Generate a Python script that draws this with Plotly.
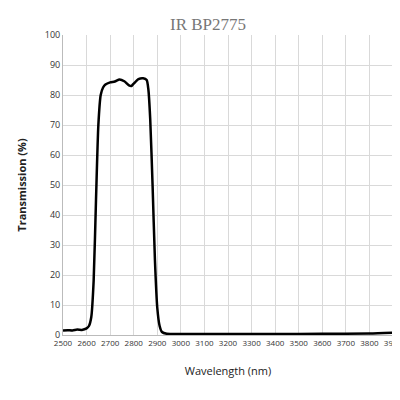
import plotly.graph_objects as go

# spectrum
wavelength = [2500, 2520, 2540, 2560, 2580, 2600, 2610, 2620, 2630, 2640, 2650, 2660, 2670,
              2680, 2700, 2720, 2740, 2760, 2780, 2790, 2800, 2820, 2840, 2855, 2862, 2870,
              2880, 2890, 2900, 2910, 2920, 2940, 3000, 3200, 3400, 3600, 3800, 3900]
transmission = [1.5, 1.6, 1.5, 1.8, 1.7, 2.2, 3.0, 6.0, 18, 45, 70, 80, 82.5,
                83.5, 84.2, 84.5, 85.2, 84.6, 83.2, 83.0, 83.8, 85.3, 85.6, 85.0, 82, 72,
                50, 25, 9, 3, 1.0, 0.4, 0.3, 0.3, 0.3, 0.4, 0.5, 0.8]

fig = go.Figure(go.Scatter(x=wavelength, y=transmission, mode='lines',
                           line=dict(color='black', width=2.5, shape='spline', smoothing=0.6)))

fig.update_layout(
    width=400, height=400, paper_bgcolor='white', plot_bgcolor='white',
    margin=dict(l=55, r=15, t=27, b=73, autoexpand=False), showlegend=False,
    title=dict(text='IR BP2775', x=0.5, y=0.975, xanchor='center',
               font=dict(family='Liberation Serif', size=17, color='#777')),
)
fig.update_xaxes(range=[2500, 3900], dtick=100, showgrid=True, gridcolor='#d9d9d9',
                 showline=True, linecolor='#bbb', ticks='', automargin=False,
                 tickfont=dict(size=8, color='#333'),
                 title=dict(text='Wavelength (nm)', standoff=20, font=dict(size=11, color='#222')))
fig.update_yaxes(range=[0, 100], dtick=10, showgrid=True, gridcolor='#d9d9d9',
                 showline=True, linecolor='#bbb', zeroline=False, automargin=False,
                 tickfont=dict(size=9, color='#333'),
                 title=dict(text='<b>Transmission (%)</b>', font=dict(size=11, color='#222')))

fig.write_html("out.html")
